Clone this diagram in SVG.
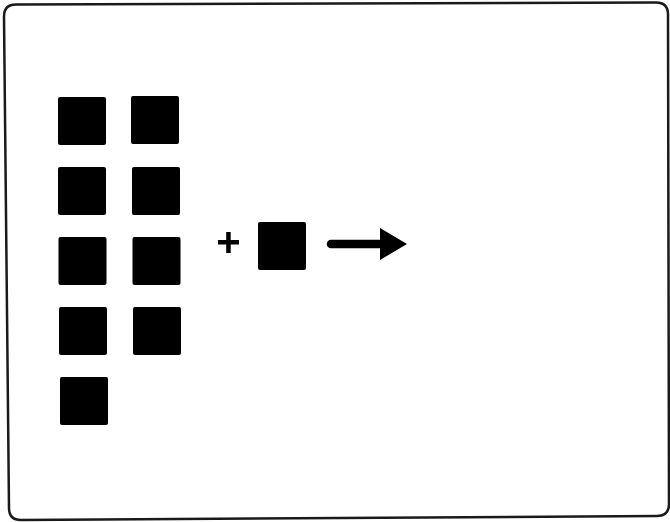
<svg xmlns="http://www.w3.org/2000/svg" width="670" height="522" viewBox="0 0 670 522">
<style>
.sq{fill:#000;}
.frame{fill:none;stroke:#1a1a1a;stroke-width:2.5;}
</style>
<rect width="670" height="522" fill="#fff"/>
<path class="frame" d="M16,4.5 L656,2.5 Q668,2.5 668,14.5 L669,504 Q669,516 657,516 L21,520 Q9,520 9,508 L4,16.5 Q4,4.5 16,4.5 Z"/>
<g id="stack">
<rect class="sq" x="58" y="97" width="48" height="48" rx="2"/>
<rect class="sq" x="131" y="96" width="48" height="48" rx="2"/>
<rect class="sq" x="58" y="167" width="48" height="48" rx="2"/>
<rect class="sq" x="132" y="167" width="48" height="48" rx="2"/>
<rect class="sq" x="58.5" y="237" width="48" height="48" rx="2"/>
<rect class="sq" x="132.5" y="237" width="48" height="48" rx="2"/>
<rect class="sq" x="59" y="307" width="48" height="48" rx="2"/>
<rect class="sq" x="133" y="307" width="48" height="48" rx="2"/>
<rect class="sq" x="60" y="377" width="48" height="48" rx="2"/>
</g>
<g id="plus">
<rect x="218" y="240" width="21" height="4.5" fill="#000"/>
<rect x="226.2" y="232" width="4.5" height="21" fill="#000"/>
</g>
<g id="single">
<rect class="sq" x="258" y="222" width="48" height="48" rx="2"/>
</g>
<g id="connectors">
<line x1="331" y1="244" x2="384" y2="244" stroke="#000" stroke-width="8.5" stroke-linecap="round"/>
<polygon points="380,228 407,244 380,260" fill="#000"/>
</g>
</svg>
